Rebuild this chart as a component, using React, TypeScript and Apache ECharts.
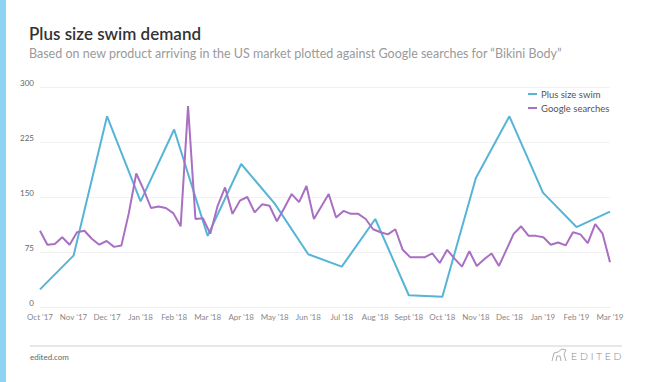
import React, { useEffect, useRef } from "react";
import * as echarts from "echarts";

const monthLabels = [
  "Oct '17", "Nov '17", "Dec '17", "Jan '18", "Feb '18", "Mar '18", "Apr '18", "May '18", "Jun '18",
  "Jul '18", "Aug '18", "Sept '18", "Oct '18", "Nov '18", "Dec '18", "Jan '19", "Feb '19", "Mar '19",
];

const plusSizeSwim = [24, 70, 260, 144, 242, 97, 195, 141, 72, 55, 120, 16, 14, 176, 260, 156, 109, 130];

const googleSearches = [
  104, 85, 86, 95, 85, 102, 104, 93, 85, 90, 82, 84, 128, 182, 160, 135, 137, 135, 128, 110,
  274, 120, 121, 100, 138, 163, 127, 145, 150, 129, 140, 138, 117, 135, 154, 143, 165, 120, 137, 154,
  122, 131, 127, 127, 120, 106, 102, 99, 106, 78, 68, 68, 68, 73, 60, 78, 66, 55, 76, 56,
  65, 73, 56, 78, 100, 110, 97, 97, 95, 85, 88, 84, 102, 99, 87, 113, 100, 61,
];

const weekIndex = googleSearches.map((_, i) => String(i));

const BLUE = "#56b4d6";
const PURPLE = "#a96fc3";

export default function App() {
  const ref = useRef<HTMLDivElement>(null);

  useEffect(() => {
    if (!ref.current) return;
    const chart = echarts.init(ref.current, null, { renderer: "svg" });
    chart.setOption({
      animation: false,
      backgroundColor: "#ffffff",
      textStyle: { fontFamily: "Lato, 'Open Sans', sans-serif" },
      title: {
        text: "Plus size swim demand",
        subtext: "Based on new product arriving in the US market plotted against Google searches for \u201cBikini Body\u201d",
        left: 24,
        top: 20,
        itemGap: 5,
        textStyle: { fontSize: 17, fontWeight: 600, color: "#333", fontFamily: "Lato, sans-serif" },
        subtextStyle: { fontSize: 12.5, color: "#9a9a9a", fontFamily: "Lato, sans-serif" },
      },
      legend: {
        orient: "vertical",
        left: 523,
        top: 84,
        itemWidth: 9,
        itemHeight: 2,
        itemGap: 4,
        icon: "rect",
        textStyle: { fontSize: 9.5, color: "#555", padding: [0, 0, 0, -1] },
        data: ["Plus size swim", "Google searches"],
      },
      grid: { left: 40, right: 40, top: 87, bottom: 75 },
      xAxis: [
        {
          type: "category",
          data: monthLabels,
          boundaryGap: false,
          axisLine: { show: true, lineStyle: { color: "#eeeeee" } },
          axisTick: { show: false },
          axisLabel: { fontSize: 8, color: "#888", margin: 5, interval: 0, lineHeight: 9 },
          splitLine: { show: false },
        },
        {
          type: "category",
          data: weekIndex,
          boundaryGap: false,
          show: false,
          position: "bottom",
        },
      ],
      yAxis: {
        type: "value",
        min: 0,
        max: 300,
        interval: 75,
        axisLine: { show: false },
        axisTick: { show: false },
        axisLabel: { fontSize: 8, color: "#666", margin: 6, verticalAlign: "bottom", lineHeight: 8 },
        splitLine: { lineStyle: { color: "#f2f2f2", width: 1 } },
      },
      series: [
        {
          name: "Plus size swim",
          type: "line",
          xAxisIndex: 0,
          data: plusSizeSwim,
          showSymbol: false,
          symbol: "none",
          lineStyle: { color: BLUE, width: 2 },
          itemStyle: { color: BLUE },
        },
        {
          name: "Google searches",
          type: "line",
          xAxisIndex: 1,
          data: googleSearches,
          showSymbol: false,
          symbol: "none",
          lineStyle: { color: PURPLE, width: 2 },
          itemStyle: { color: PURPLE },
        },
      ],
      graphic: [
        { type: "rect", left: 0, top: 0, shape: { x: 0, y: 0, width: 6, height: 382 }, style: { fill: "#8dd4f2" } },
        { type: "line", shape: { x1: 30, y1: 346, x2: 622, y2: 346 }, style: { stroke: "#d0d0d0", lineWidth: 1 } },
        { type: "text", x: 30, y: 353, style: { text: "edited.com", fontSize: 8, fill: "#666", fontFamily: "Lato, sans-serif" } },
        {
          type: "polyline",
          shape: { points: [[552, 361], [554, 353], [558, 352], [562, 349], [566, 350], [564, 354], [566, 361]] },
          style: { stroke: "#999", lineWidth: 0.8, fill: "none" },
        },
        {
          type: "polyline",
          shape: { points: [[556, 361], [557, 356], [560, 356], [561, 361]] },
          style: { stroke: "#999", lineWidth: 0.8, fill: "none" },
        },
        { type: "text", x: 571, y: 350, style: { text: "E D I T E D", fontSize: 10.5, fill: "#888", fontFamily: "Lato, sans-serif", fontWeight: 300 } },
      ],
    });
    return () => chart.dispose();
  }, []);

  return (
    <div
      ref={ref}
      style={{ position: "fixed", left: 0, top: 0, width: 650, height: 382, background: "#fff" }}
    />
  );
}
